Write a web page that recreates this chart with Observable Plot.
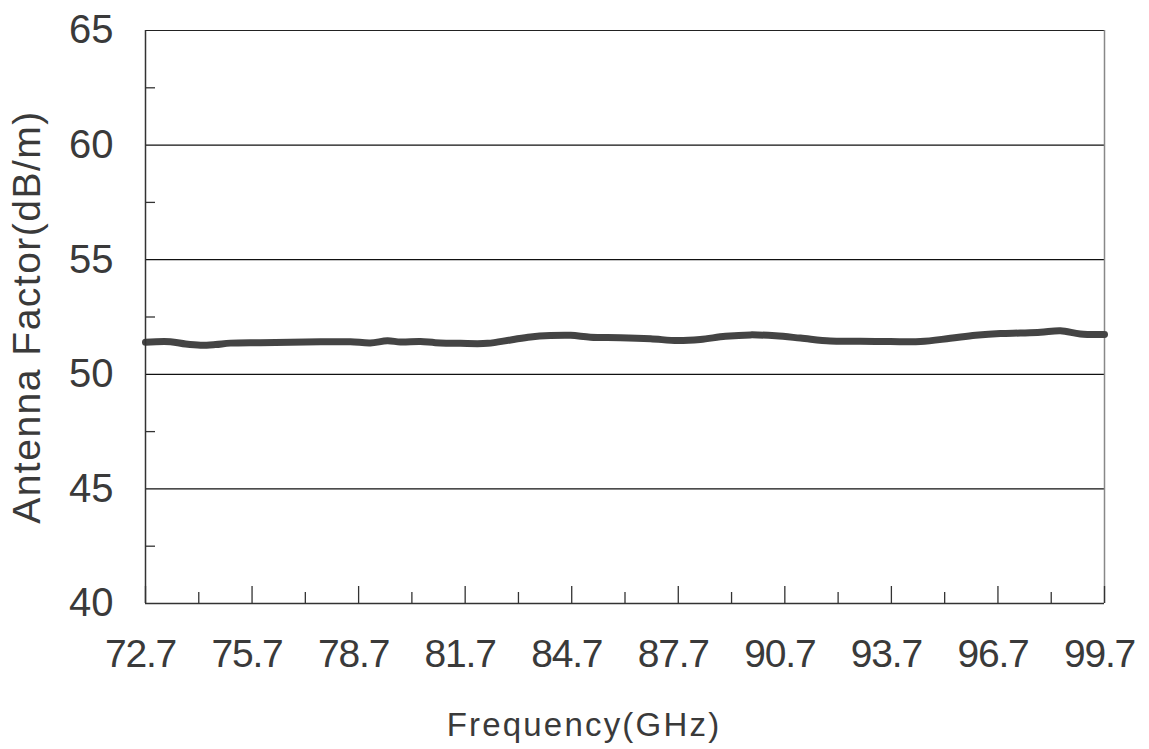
<!DOCTYPE html>
<html>
<head>
<meta charset="utf-8">
<script src="https://cdn.jsdelivr.net/npm/d3@7"></script>
<script src="https://cdn.jsdelivr.net/npm/@observablehq/plot@0.6"></script>
<style>
  html, body { margin: 0; padding: 0; background: #fff; }
  svg { display: block; }
  g[aria-label="y-axis label"] text { letter-spacing: 1.5px; }
  g[aria-label="x-axis label"] text { letter-spacing: 2.2px; }
  g[aria-label="x-axis tick label"] text { letter-spacing: -1.2px; }
</style>
</head>
<body>
<div id="chart"></div>
<script>
// Frequency (GHz)
const freq = [72.7, 73.4, 73.83, 74.25, 74.67, 75.09, 75.94, 76.78, 77.63, 78.47, 79.03, 79.51, 79.88, 80.44, 80.86, 81.57, 82.33, 82.98, 83.54, 84.10, 84.67, 85.23, 86.07, 86.92, 87.68, 88.32, 89.03, 89.73, 90.44, 91.14, 91.98, 92.83, 93.67, 94.52, 95.36, 96.07, 96.77, 97.33, 97.90, 98.46, 99.02, 99.7];
// Antenna factor (dB/m)
const af = [51.40, 51.42, 51.32, 51.27, 51.30, 51.36, 51.38, 51.40, 51.42, 51.42, 51.37, 51.46, 51.41, 51.43, 51.38, 51.35, 51.35, 51.50, 51.63, 51.69, 51.70, 51.62, 51.60, 51.55, 51.47, 51.52, 51.66, 51.72, 51.68, 51.58, 51.45, 51.44, 51.43, 51.43, 51.57, 51.70, 51.78, 51.80, 51.83, 51.90, 51.76, 51.74];

const xTicks = [72.7, 75.7, 78.7, 81.7, 84.7, 87.7, 90.7, 93.7, 96.7, 99.7];
const xMinorTicks = [74.2, 77.2, 80.2, 83.2, 86.2, 89.2, 92.2, 95.2, 98.2];
const yTicks = [40, 45, 50, 55, 60, 65];
const yMinorTicks = [42.5, 47.5, 52.5, 57.5, 62.5];
const gridValues = [45, 50, 55, 60];

const data = freq.map((f, i) => ({f, v: af[i]}));

const textColor = "#3a3a3a";
const font = "'Liberation Sans', Arial, sans-serif";

const chart = Plot.plot({
  width: 1149,
  height: 749,
  marginLeft: 145,
  marginRight: 45,
  marginTop: 30,
  marginBottom: 146,
  style: {fontFamily: font, fontSize: "36px", color: textColor, background: "#fff"},
  x: {domain: [72.7, 99.7]},
  y: {domain: [40, 65]},
  marks: [
    Plot.ruleY(gridValues, {stroke: "#111", strokeWidth: 1.2}),
    Plot.ruleY([65], {stroke: "#222", strokeWidth: 1.2}),
    Plot.ruleX([99.7], {stroke: "#888", strokeWidth: 1.5}),
    Plot.line(data, {x: "f", y: "v", stroke: "#444", strokeWidth: 7, curve: "catmull-rom", strokeLinejoin: "round", strokeLinecap: "round"}),
    Plot.ruleX([72.7], {stroke: "#333", strokeWidth: 1.5}),
    Plot.ruleY([40], {stroke: "#333", strokeWidth: 1.5}),
    // x ticks inward
    Plot.axisX({ticks: xTicks, tickSize: -17, text: null, label: null, stroke: "#333", strokeWidth: 1.3}),
    Plot.axisX({ticks: xMinorTicks, tickSize: -11, text: null, label: null, stroke: "#333", strokeWidth: 1.3}),
    Plot.axisX({ticks: xTicks, tickSize: 0, tickPadding: 36, tickFormat: d => d.toFixed(1), dx: -5, fill: textColor, fontSize: 39,
      label: null}),
    Plot.axisX({ticks: [], tickSize: 0, fill: textColor, fontSize: 33,
      label: "Frequency(GHz)", labelAnchor: "center", labelArrow: "none", labelOffset: 132}),
    // y ticks
    Plot.axisY({ticks: yMinorTicks, tickSize: -10, text: null, label: null, stroke: "#333", strokeWidth: 1.3}),
    Plot.axisY({ticks: yTicks, tickSize: 0, tickPadding: 32, fill: textColor, fontSize: 40, label: null}),
    Plot.axisY({ticks: [], tickSize: 0, fill: textColor, fontSize: 39,
      label: "Antenna Factor(dB/m)", labelAnchor: "center", labelArrow: "none", labelOffset: 133})
  ]
});

// the reference's x-axis title sits left of the plot centre
d3.select(chart).select('g[aria-label="x-axis label"] text').attr("dx", -41);

document.getElementById("chart").appendChild(chart);
</script>
</body>
</html>
